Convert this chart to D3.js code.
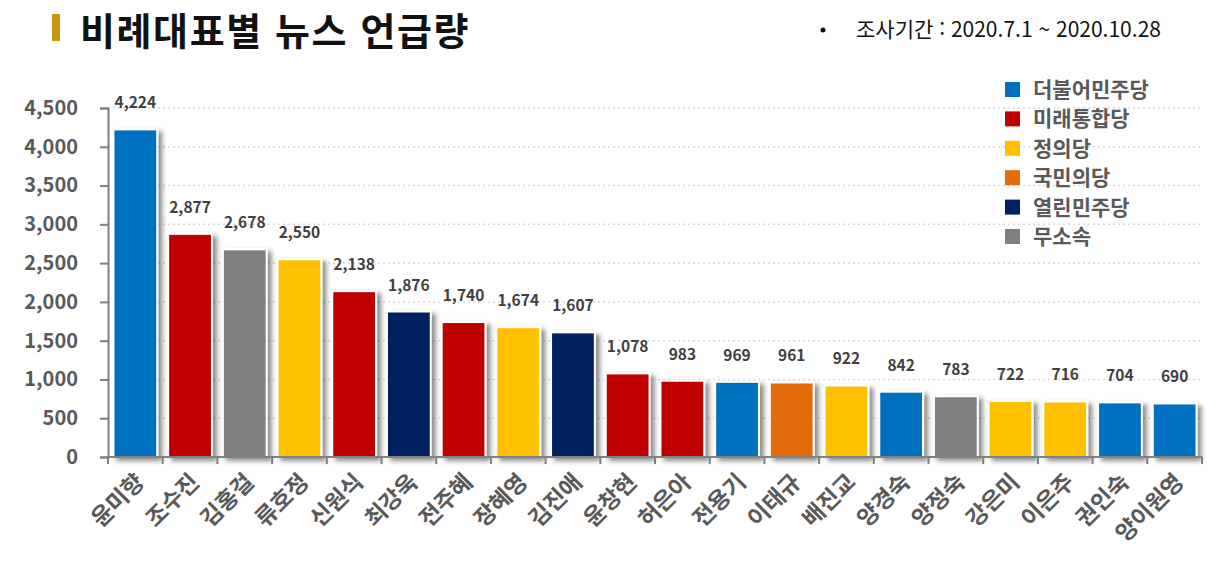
<!DOCTYPE html>
<html lang="ko">
<head>
	<meta charset="UTF-8">
	<title>비례대표별 뉴스 언급량</title>
	<script src="https://d3js.org/d3.v7.min.js"></script>
	<style>
		body { margin: 0; background: #fff; }
		text { font-family: "Noto Sans CJK KR", "Noto Sans", sans-serif; }
	</style>
</head>
<body>
	<script type="text/javascript">
		const names = ["윤미향", "조수진", "김홍걸", "류호정", "신원식", "최강욱", "전주혜", "장혜영", "김진애", "윤창현",
			"허은아", "전용기", "이태규", "배진교", "양경숙", "양정숙", "강은미", "이은주", "권인숙", "양이원영"];
		const counts = [4224, 2877, 2678, 2550, 2138, 1876, 1740, 1674, 1607, 1078,
			983, 969, 961, 922, 842, 783, 722, 716, 704, 690];
		const parties = ["더불어민주당", "미래통합당", "무소속", "정의당", "미래통합당", "열린민주당", "미래통합당", "정의당", "열린민주당", "미래통합당",
			"미래통합당", "더불어민주당", "국민의당", "정의당", "더불어민주당", "무소속", "정의당", "정의당", "더불어민주당", "더불어민주당"];
		const partyNames = ["더불어민주당", "미래통합당", "정의당", "국민의당", "열린민주당", "무소속"];
		const partyColors = ["#0070C0", "#C00000", "#FFC000", "#E46C0A", "#002060", "#7F7F7F"];
		const yTicks = [0, 500, 1000, 1500, 2000, 2500, 3000, 3500, 4000, 4500];

		const width = 1226;
		const height = 562;
		const margin = { left: 108, right: 24, top: 108, bottom: 105 };

		const color = d3.scaleOrdinal().domain(partyNames).range(partyColors);

		const xScale = d3.scaleBand()
			.domain(names)
			.range([margin.left, width - margin.right])
			.paddingInner(0.2)
			.paddingOuter(0.1);

		const yScale = d3.scaleLinear()
			.domain([0, 4500])
			.range([height - margin.bottom, margin.top]);

		const svg = d3.select("body")
			.append("svg")
			.attr("width", width)
			.attr("height", height);

		// shadow behind the bars
		const filter = svg.append("defs").append("filter")
			.attr("id", "shadow")
			.attr("x", "-20%").attr("y", "-10%")
			.attr("width", "160%").attr("height", "130%");
		filter.append("feDropShadow")
			.attr("dx", 4).attr("dy", 3)
			.attr("stdDeviation", 2.5)
			.attr("flood-color", "#000")
			.attr("flood-opacity", 0.45);

		// title
		svg.append("rect")
			.attr("x", 52).attr("y", 14)
			.attr("width", 8).attr("height", 27)
			.attr("fill", "#C9970A");
		svg.append("text")
			.attr("x", 80).attr("y", 45)
			.attr("font-size", "38px")
			.attr("font-weight", "bold")
			.attr("letter-spacing", "1.6px")
			.attr("fill", "#111")
			.text("비례대표별 뉴스 언급량");

		svg.append("circle")
			.attr("cx", 823).attr("cy", 30).attr("r", 2.5)
			.attr("fill", "#111");
		svg.append("text")
			.attr("x", 856).attr("y", 37)
			.attr("font-size", "21px")
			.attr("fill", "#111")
			.text("조사기간 : 2020.7.1 ~ 2020.10.28");

		// gridlines
		svg.append("g")
			.selectAll("line")
			.data(yTicks.filter(d => d > 0))
			.enter()
			.append("line")
			.attr("x1", margin.left)
			.attr("x2", width - margin.right)
			.attr("y1", d => yScale(d))
			.attr("y2", d => yScale(d))
			.attr("stroke", "#d9d9d9")
			.attr("stroke-width", 1.5)
			.attr("stroke-dasharray", "2,3");

		// bars
		svg.append("g")
			.selectAll("rect")
			.data(names)
			.enter()
			.append("rect")
			.attr("x", d => xScale(d))
			.attr("y", (d, i) => yScale(counts[i]))
			.attr("width", xScale.bandwidth())
			.attr("height", (d, i) => yScale(0) - yScale(counts[i]))
			.attr("fill", (d, i) => color(parties[i]))
			.attr("stroke", "#fff")
			.attr("stroke-width", 2)
			.attr("filter", "url(#shadow)");

		// value labels
		svg.append("g")
			.selectAll("text")
			.data(names)
			.enter()
			.append("text")
			.attr("x", d => xScale(d) + xScale.bandwidth() / 2)
			.attr("y", (d, i) => yScale(counts[i]) - 21)
			.attr("text-anchor", "middle")
			.attr("font-size", "15.5px")
			.attr("font-weight", "bold")
			.attr("fill", "#404040")
			.text((d, i) => d3.format(",")(counts[i]));

		// y axis
		const yAxis = svg.append("g")
			.attr("transform", `translate(${margin.left},0)`)
			.call(d3.axisLeft(yScale).tickValues(yTicks).tickFormat(d3.format(",")).tickSize(8).tickPadding(22));
		yAxis.select(".domain").attr("stroke", "#808080").attr("stroke-width", 2);
		yAxis.selectAll(".tick line").attr("stroke", "#808080").attr("stroke-width", 2);
		yAxis.selectAll(".tick text")
			.attr("font-size", "20px")
			.attr("font-weight", "bold")
			.attr("fill", "#595959");

		// x axis
		const step = xScale.step();
		const xAxis = svg.append("g")
			.attr("transform", `translate(0,${yScale(0)})`);
		xAxis.append("line")
			.attr("x1", margin.left).attr("x2", width - margin.right)
			.attr("stroke", "#808080").attr("stroke-width", 2);
		xAxis.selectAll(".xtick")
			.data(d3.range(names.length + 1))
			.enter()
			.append("line")
			.attr("x1", i => margin.left + i * step)
			.attr("x2", i => margin.left + i * step)
			.attr("y1", 0).attr("y2", 7)
			.attr("stroke", "#808080").attr("stroke-width", 2);
		xAxis.selectAll(".xlabel")
			.data(names)
			.enter()
			.append("text")
			.attr("transform", d => `translate(${xScale(d) + xScale.bandwidth() / 2 + 6},${22}) rotate(-45)`)
			.attr("text-anchor", "end")
			.attr("dominant-baseline", "middle")
			.attr("font-size", "23px")
			.attr("font-weight", "bold")
			.attr("fill", "#595959")
			.text(d => d);

		// legend
		const legend = svg.append("g")
			.selectAll("g")
			.data(partyNames)
			.enter()
			.append("g")
			.attr("transform", (d, i) => `translate(1005,${82 + i * 29.4})`);
		legend.append("rect")
			.attr("width", 15).attr("height", 15)
			.attr("fill", d => color(d));
		legend.append("text")
			.attr("x", 28).attr("y", 15)
			.attr("font-size", "21px")
			.attr("font-weight", "bold")
			.attr("fill", "#595959")
			.text(d => d);
	</script>
</body>
</html>
